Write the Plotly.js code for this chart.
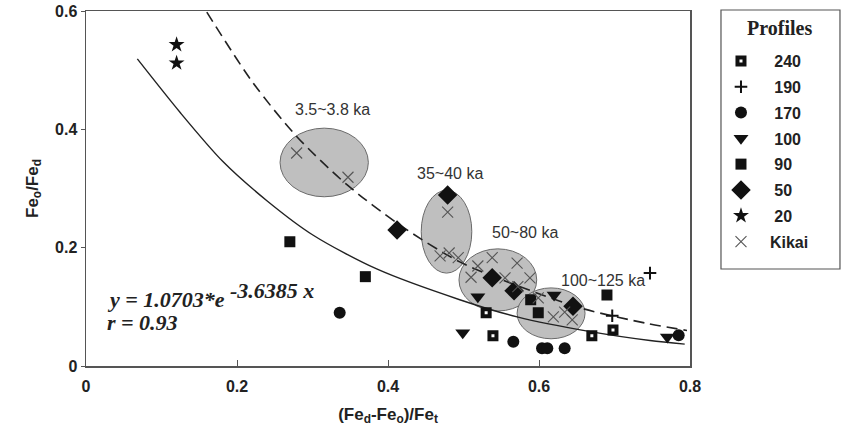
<!DOCTYPE html>
<html>
<head>
<meta charset="utf-8">
<script src="https://cdn.plot.ly/plotly-3.0.1.min.js"></script>
<style>html,body{margin:0;padding:0;background:#fff;}#chart{width:842px;height:434px;}</style>
</head>
<body>
<div id="chart"></div>
<script>
// ---- data ----
const p240_x = [0.530, 0.539, 0.670, 0.698];
const p240_y = [0.090, 0.051, 0.051, 0.061];
const p190_x = [0.697, 0.747];
const p190_y = [0.085, 0.157];
const p170_x = [0.336, 0.566, 0.604, 0.611, 0.634, 0.785];
const p170_y = [0.090, 0.041, 0.030, 0.030, 0.030, 0.052];
const p100_x = [0.499, 0.519, 0.620, 0.770];
const p100_y = [0.056, 0.117, 0.120, 0.049];
const p90_x = [0.270, 0.370, 0.589, 0.599, 0.690];
const p90_y = [0.210, 0.151, 0.112, 0.090, 0.120];
const p50_x = [0.412, 0.479, 0.538, 0.567, 0.645];
const p50_y = [0.230, 0.289, 0.149, 0.127, 0.101];
const p20_x = [0.120, 0.120];
const p20_y = [0.543, 0.512];
const kikai_x = [0.279, 0.347, 0.479, 0.469, 0.481, 0.493, 0.519, 0.538, 0.571, 0.510, 0.555, 0.588, 0.572, 0.599, 0.619, 0.634, 0.644];
const kikai_y = [0.360, 0.319, 0.260, 0.186, 0.191, 0.183, 0.169, 0.183, 0.174, 0.150, 0.149, 0.149, 0.134, 0.115, 0.083, 0.091, 0.078];
// fitted curves
const fitSolid_x = [0.068, 0.125, 0.181, 0.240, 0.301, 0.385, 0.495, 0.571, 0.668, 0.747, 0.793];
const fitSolid_y = [0.519, 0.428, 0.346, 0.279, 0.221, 0.164, 0.112, 0.083, 0.058, 0.043, 0.037];
const fitDash_x = [0.160, 0.221, 0.279, 0.346, 0.416, 0.495, 0.571, 0.658, 0.743, 0.796];
const fitDash_y = [0.598, 0.479, 0.388, 0.306, 0.238, 0.176, 0.136, 0.097, 0.072, 0.060];
// age groups (ellipses) and labels
const groupLabels = ['3.5~3.8 ka', '35~40 ka', '50~80 ka', '100~125 ka'];
const groupLabel_x = [0.274, 0.436, 0.535, 0.626];
const groupLabel_y = [0.433, 0.326, 0.225, 0.144];
const groupBox_x0 = [0.257, 0.444, 0.494, 0.571];
const groupBox_x1 = [0.374, 0.511, 0.597, 0.661];
const groupBox_y0 = [0.286, 0.157, 0.093, 0.046];
const groupBox_y1 = [0.402, 0.297, 0.198, 0.132];
const xTicks = [0, 0.2, 0.4, 0.6, 0.8];
const xTickText = ['0', '0.2', '0.4', '0.6', '0.8'];
const yTicks = [0, 0.2, 0.4, 0.6];
const yTickText = ['0', '0.2', '0.4', '0.6'];
const legendNames = ['240', '190', '170', '100', '90', '50', '20', 'Kikai'];

const INK = '#111';
const NB3 = '\u00a0\u00a0\u00a0';
const traces = [
  {x: fitSolid_x, y: fitSolid_y, mode: 'lines', line: {color: '#222', width: 1.4, shape: 'spline', smoothing: 0.8}, showlegend: false, hoverinfo: 'skip'},
  {x: fitDash_x, y: fitDash_y, mode: 'lines', line: {color: '#222', width: 1.6, dash: '11px,6px', shape: 'spline', smoothing: 0.8}, showlegend: false, hoverinfo: 'skip'},
  {name: NB3 + legendNames[0], legendgroup: 'a', x: p240_x, y: p240_y, mode: 'markers', marker: {symbol: 'square', size: 7, color: '#fff', line: {color: INK, width: 4}}},
  {name: NB3 + legendNames[1], legendgroup: 'b', x: p190_x, y: p190_y, mode: 'markers', marker: {symbol: 'cross-thin-open', size: 9, color: INK, line: {color: INK, width: 2}}},
  {name: NB3 + legendNames[2], legendgroup: 'c', x: p170_x, y: p170_y, mode: 'markers', marker: {symbol: 'circle', size: 12, color: INK}},
  {name: NB3 + legendNames[3], legendgroup: 'd', x: p100_x, y: p100_y, mode: 'markers', marker: {symbol: 'triangle-down', size: 13, color: INK}},
  {name: NB3 + legendNames[4], legendgroup: 'e', x: p90_x, y: p90_y, mode: 'markers', marker: {symbol: 'square', size: 11, color: INK}},
  {name: NB3 + legendNames[5], legendgroup: 'f', x: p50_x, y: p50_y, mode: 'markers', marker: {symbol: 'diamond', size: 15, color: INK}},
  {name: NB3 + legendNames[6], legendgroup: 'g', x: p20_x, y: p20_y, mode: 'markers', marker: {symbol: 'star', size: 12, color: INK}},
  {name: '\u00a0\u00a0' + legendNames[7], legendgroup: 'h', x: kikai_x, y: kikai_y, mode: 'markers', marker: {symbol: 'x-thin-open', size: 11, color: '#555', line: {color: '#555', width: 1.1}}}
];

const shapes = groupLabels.map((_, i) => ({
  type: 'circle', xref: 'x', yref: 'y', layer: 'below',
  x0: groupBox_x0[i], x1: groupBox_x1[i], y0: groupBox_y0[i], y1: groupBox_y1[i],
  fillcolor: '#bfbfbf', line: {color: '#6a6a6a', width: 1}
}));
// legend frame
shapes.push({type: 'rect', xref: 'paper', yref: 'paper', x0: 1.0513, x1: 1.2483, y0: 0.2732, y1: 1.0028,
  line: {color: '#555', width: 1.2}, fillcolor: 'rgba(0,0,0,0)'});

const annotations = groupLabels.map((t, i) => ({
  text: t, x: groupLabel_x[i], y: groupLabel_y[i], xref: 'x', yref: 'y',
  xanchor: 'left', yanchor: 'middle', showarrow: false,
  font: {family: 'Liberation Sans, Arial, sans-serif', size: 16, color: '#333'}
}));
const eqFont = {family: 'Liberation Serif, Times New Roman, serif', size: 22, color: '#222', weight: 'bold', style: 'italic'};
annotations.push(
  {text: 'y = 1.0703*e', x: 0.025, y: 0.112, xref: 'x', yref: 'y', xanchor: 'left', yanchor: 'middle', showarrow: false, font: eqFont},
  {text: '-3.6385 x', x: 0.188, y: 0.128, xref: 'x', yref: 'y', xanchor: 'left', yanchor: 'middle', showarrow: false, font: eqFont},
  {text: 'r = 0.93', x: 0.025, y: 0.073, xref: 'x', yref: 'y', xanchor: 'left', yanchor: 'middle', showarrow: false, font: eqFont},
  {text: '<b>Profiles</b>', x: 1.149, y: 0.952, xref: 'paper', yref: 'paper', xanchor: 'center', yanchor: 'middle', showarrow: false,
   font: {family: 'Liberation Serif, Times New Roman, serif', size: 20, color: '#222'}}
);

const tickFont = {family: 'Liberation Sans, Arial, sans-serif', size: 16, color: '#222', weight: 'bold'};
const titleFont = {family: 'Liberation Sans, Arial, sans-serif', size: 17, color: '#222', weight: 'bold'};
const layout = {
  width: 842, height: 434,
  margin: {l: 86, r: 152, t: 11, b: 68},
  paper_bgcolor: '#fff', plot_bgcolor: '#fff',
  showlegend: true,
  xaxis: {
    range: [0, 0.8], tickvals: xTicks, ticktext: xTickText,
    showgrid: false, zeroline: false, showline: true, mirror: true,
    linecolor: '#555', linewidth: 1.5, ticks: 'inside', ticklen: 6, tickcolor: '#555',
    tickfont: tickFont, ticklabelstandoff: 5,
    title: {text: '(Fe<sub>d</sub>-Fe<sub>o</sub>)/Fe<sub>t</sub>', font: titleFont, standoff: 14}
  },
  yaxis: {
    range: [0, 0.6], tickvals: yTicks, ticktext: yTickText,
    showgrid: false, zeroline: false, showline: true, mirror: true,
    linecolor: '#555', linewidth: 1.5, ticks: 'outside', ticklen: 4, tickcolor: '#555',
    tickfont: tickFont,
    title: {text: 'Fe<sub>o</sub>/Fe<sub>d</sub>', font: titleFont, standoff: 12}
  },
  legend: {
    x: 1.0513, xanchor: 'left', y: 0.907, yanchor: 'top',
    borderwidth: 0, bgcolor: 'rgba(0,0,0,0)',
    font: {family: 'Liberation Sans, Arial, sans-serif', size: 16, color: '#222', weight: 'bold'},
    tracegroupgap: 2, itemwidth: 30, traceorder: 'grouped'
  },
  shapes: shapes,
  annotations: annotations
};

Plotly.newPlot('chart', traces, layout, {displayModeBar: false, staticPlot: true});
</script>
</body>
</html>
